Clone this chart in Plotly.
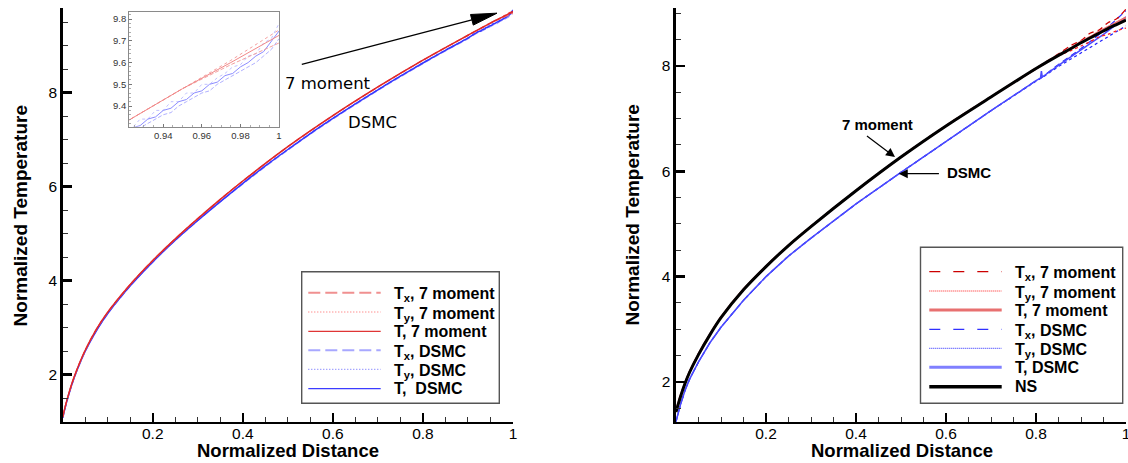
import plotly.graph_objects as go

# ---------------- data: left panel (7 moment vs DSMC) ----------------
x_mom_l = [0, 0.005, 0.01, 0.02, 0.03, 0.05, 0.075, 0.1, 0.15, 0.2, 0.25, 0.3, 0.35, 0.4, 0.5,
           0.6, 0.7, 0.8, 0.9, 0.925, 0.95, 0.975, 1.0]
T_mom_l = [1.10, 1.30, 1.48, 1.80, 2.07, 2.52, 2.97, 3.33, 3.92, 4.43, 4.89, 5.32, 5.73, 6.12, 6.85,
           7.51, 8.12, 8.69, 9.22, 9.35, 9.48, 9.60, 9.725]
Tx_mom_l = [1.10, 1.30, 1.48, 1.80, 2.07, 2.52, 2.97, 3.33, 3.92, 4.43, 4.89, 5.32, 5.73, 6.12, 6.85,
            7.51, 8.12, 8.69, 9.22, 9.35, 9.48, 9.59, 9.69]
Ty_mom_l = [1.10, 1.30, 1.48, 1.80, 2.07, 2.52, 2.97, 3.33, 3.92, 4.43, 4.89, 5.32, 5.73, 6.12, 6.85,
            7.51, 8.12, 8.69, 9.22, 9.35, 9.48, 9.61, 9.75]

x_dsmc_l = [0, 0.005, 0.01, 0.02, 0.03, 0.05, 0.075, 0.1, 0.15, 0.2, 0.25, 0.3, 0.35, 0.4,
            0.45, 0.5, 0.55, 0.6, 0.65, 0.7, 0.75, 0.8, 0.85, 0.9,
            0.920, 0.924, 0.928, 0.932, 0.936, 0.940, 0.944, 0.948, 0.952, 0.956, 0.960,
            0.964, 0.968, 0.972, 0.976, 0.980, 0.984, 0.988, 0.992, 0.996, 1.000]
T_dsmc_l = [1.08, 1.28, 1.46, 1.78, 2.05, 2.50, 2.94, 3.30, 3.89, 4.40, 4.86, 5.28, 5.68, 6.07,
            6.44, 6.79, 7.13, 7.45, 7.76, 8.06, 8.35, 8.63, 8.90, 9.16,
            9.28, 9.30, 9.31, 9.34, 9.35, 9.38, 9.39, 9.42, 9.43, 9.46, 9.47,
            9.50, 9.51, 9.54, 9.55, 9.58, 9.60, 9.63, 9.65, 9.70, 9.745]
Tx_dsmc_l = [1.08, 1.28, 1.46, 1.78, 2.05, 2.50, 2.94, 3.30, 3.89, 4.40, 4.86, 5.28, 5.68, 6.06,
             6.43, 6.78, 7.12, 7.44, 7.75, 8.05, 8.34, 8.62, 8.89, 9.15,
             9.27, 9.29, 9.30, 9.32, 9.34, 9.36, 9.37, 9.40, 9.42, 9.44, 9.46,
             9.47, 9.50, 9.52, 9.54, 9.56, 9.58, 9.60, 9.63, 9.66, 9.71]
Ty_dsmc_l = [1.08, 1.28, 1.46, 1.78, 2.05, 2.50, 2.94, 3.30, 3.89, 4.40, 4.86, 5.28, 5.68, 6.07,
             6.45, 6.80, 7.14, 7.46, 7.77, 8.07, 8.36, 8.64, 8.91, 9.17,
             9.30, 9.30, 9.34, 9.34, 9.38, 9.38, 9.42, 9.42, 9.46, 9.46, 9.50,
             9.50, 9.53, 9.55, 9.58, 9.59, 9.63, 9.64, 9.69, 9.71, 9.78]

# ---------------- data: right panel (7 moment, DSMC, NS) ----------------
x_mom_r = [0, 0.005, 0.01, 0.02, 0.03, 0.05, 0.075, 0.1, 0.15, 0.2, 0.25, 0.3, 0.4, 0.5,
           0.6, 0.7, 0.8, 0.85, 0.88, 0.9, 0.92, 0.94, 0.96, 0.98, 1.0]
NS_r = [1.43, 1.58, 1.72, 1.97, 2.18, 2.52, 2.89, 3.22, 3.75, 4.19, 4.59, 4.95, 5.63, 6.27,
        6.86, 7.41, 7.95, 8.20, 8.34, 8.44, 8.53, 8.62, 8.71, 8.79, 8.87]
T_mom_r = [1.45, 1.60, 1.74, 1.98, 2.19, 2.53, 2.90, 3.23, 3.76, 4.20, 4.59, 4.95, 5.63, 6.27,
           6.86, 7.41, 7.95, 8.21, 8.35, 8.46, 8.55, 8.65, 8.74, 8.83, 8.92]
Tx_mom_r = [1.46, 1.61, 1.75, 1.99, 2.20, 2.54, 2.90, 3.23, 3.76, 4.20, 4.60, 4.96, 5.64, 6.28,
            6.87, 7.42, 7.96, 8.23, 8.40, 8.48, 8.62, 8.68, 8.82, 8.90, 9.08]
Ty_mom_r = [1.44, 1.59, 1.73, 1.97, 2.18, 2.52, 2.89, 3.22, 3.75, 4.19, 4.59, 4.95, 5.63, 6.27,
            6.86, 7.41, 7.94, 8.19, 8.30, 8.38, 8.46, 8.55, 8.60, 8.67, 8.72]

x_dsmc_r = [0, 0.005, 0.01, 0.02, 0.03, 0.05, 0.075, 0.1, 0.15, 0.2, 0.25, 0.3, 0.4, 0.5,
            0.6, 0.7, 0.8, 0.81, 0.812, 0.814, 0.85, 0.9, 0.95, 1.0]
T_dsmc_r = [1.25, 1.42, 1.57, 1.84, 2.05, 2.38, 2.74, 3.04, 3.55, 4.00, 4.39, 4.73, 5.38, 5.98,
            6.57, 7.15, 7.72, 7.77, 7.90, 7.79, 8.01, 8.30, 8.60, 8.93]
Tx_dsmc_r = [1.25, 1.42, 1.57, 1.84, 2.05, 2.38, 2.74, 3.04, 3.55, 4.00, 4.39, 4.73, 5.38, 5.98,
             6.57, 7.15, 7.72, 7.77, 7.78, 7.79, 8.03, 8.33, 8.66, 9.05]
Ty_dsmc_r = [1.25, 1.42, 1.57, 1.84, 2.05, 2.38, 2.74, 3.04, 3.55, 4.00, 4.39, 4.73, 5.38, 5.98,
             6.57, 7.15, 7.71, 7.76, 7.77, 7.78, 7.99, 8.25, 8.50, 8.76]

# tick labels
x_ticks = [0.2, 0.4, 0.6, 0.8, 1]
x_tick_text = ["0.2", "0.4", "0.6", "0.8", "1"]
y_ticks = [2, 4, 6, 8]
inset_x_ticks = [0.94, 0.96, 0.98, 1]
inset_x_text = ["0.94", "0.96", "0.98", "1"]
inset_y_ticks = [9.4, 9.5, 9.6, 9.7, 9.8]

# ---------------- figure ----------------
W, H = 1128, 463
def px(v):
    return v / W
def py(v):
    return 1 - v / H

SANS = "Liberation Sans, Arial, Helvetica, sans-serif"
fig = go.Figure()

def add(x, y, xa, ya, color, width, dash="solid", shape="spline", smoothing=0.8):
    line = dict(color=color, width=width, dash=dash, shape=shape)
    if shape == "spline":
        line["smoothing"] = smoothing
    fig.add_trace(go.Scatter(x=x, y=y, mode="lines", xaxis=xa, yaxis=ya, line=line,
                             hoverinfo="skip", showlegend=False))

# left panel main
add(x_dsmc_l, Tx_dsmc_l, "x", "y", "#9a9aff", 1.5, "6px,3px")
add(x_dsmc_l, Ty_dsmc_l, "x", "y", "#7070ff", 1.0, "dot")
add(x_dsmc_l, T_dsmc_l, "x", "y", "#3535ff", 1.5)
add(x_mom_l, Tx_mom_l, "x", "y", "#f08080", 1.5, "6px,3px")
add(x_mom_l, Ty_mom_l, "x", "y", "#ff4040", 1.0, "dot")
add(x_mom_l, T_mom_l, "x", "y", "#e02828", 1.5)

# left inset
add(x_dsmc_l, Tx_dsmc_l, "x3", "y3", "#b0b0ff", 1.0, "4px,2px", "linear")
add(x_dsmc_l, Ty_dsmc_l, "x3", "y3", "#c0c0ff", 1.0, "dot", "linear")
add(x_dsmc_l, T_dsmc_l, "x3", "y3", "#8c8cff", 1.0, "solid", "linear")
add(x_mom_l, Tx_mom_l, "x3", "y3", "#f2a0a0", 1.0, "4px,2px", "linear")
add(x_mom_l, Ty_mom_l, "x3", "y3", "#f5a0a0", 1.0, "dot", "linear")
add(x_mom_l, T_mom_l, "x3", "y3", "#f08888", 1.0, "solid", "linear")

# right panel
add(x_dsmc_r, Tx_dsmc_r, "x2", "y2", "#2a2aff", 1.2, "6px,4px", "linear")
add(x_dsmc_r, Ty_dsmc_r, "x2", "y2", "#2020ff", 1.2, "dot", "linear")
add(x_dsmc_r, T_dsmc_r, "x2", "y2", "#4a4aff", 1.5, "solid", "linear")
add(x_mom_r, Tx_mom_r, "x2", "y2", "#d00000", 1.3, "6px,4px")
add(x_mom_r, Ty_mom_r, "x2", "y2", "#ff2020", 1.2, "dot")
add(x_mom_r, T_mom_r, "x2", "y2", "#e87070", 2.0)
add(x_mom_r, NS_r, "x2", "y2", "black", 3.0)

TICKFONT = dict(family=SANS, size=15.5, color="black")

def main_axis(domain, rng, tickvals, ticktext, minor_dtick, anchor, standoff):
    return dict(domain=domain, range=rng, showline=True, linewidth=2.6, linecolor="black",
                ticks="inside", ticklen=9, tickwidth=2.5, tickcolor="black",
                tickmode="array", tickvals=tickvals, ticktext=ticktext,
                minor=dict(ticks="inside", ticklen=5, tickwidth=1, tickcolor="#333",
                           dtick=minor_dtick, tick0=0, showgrid=False),
                showgrid=False, zeroline=False, tickfont=TICKFONT, automargin=False,
                ticklabeloverflow="allow", ticklabelstandoff=standoff,
                anchor=anchor, fixedrange=True)

def inset_axis(domain, rng, tickvals, ticktext, minor_dtick, anchor):
    return dict(domain=domain, range=rng, showline=True, mirror=True, linewidth=1.2,
                linecolor="#8a8a8a", ticks="inside", ticklen=3, tickwidth=1, tickcolor="#777",
                tickmode="array", tickvals=tickvals, ticktext=ticktext,
                minor=dict(ticks="inside", ticklen=2, tickwidth=0.8, tickcolor="#999",
                           dtick=minor_dtick, tick0=0, showgrid=False),
                showgrid=False, zeroline=False,
                tickfont=dict(family=SANS, size=9.5, color="#333"),
                automargin=False, anchor=anchor, fixedrange=True)

yt_text = [str(v) for v in y_ticks]
fig.update_layout(
    width=W, height=H, template="none",
    margin=dict(l=0, r=0, t=0, b=0, pad=0),
    paper_bgcolor="white", plot_bgcolor="rgba(0,0,0,0)", showlegend=False,
    xaxis=main_axis([px(62.7), px(513)], [0, 1], x_ticks, x_tick_text, 0.05, "y", -4),
    yaxis=main_axis([py(421.7), py(8)], [1, 9.8], y_ticks, yt_text, 0.5, "x", 0),
    xaxis2=main_axis([px(676), px(1126)], [0, 1], x_ticks, x_tick_text, 0.05, "y2", -4),
    yaxis2=main_axis([py(421.7), py(8)], [1.246, 9.10], y_ticks, yt_text, 0.5, "x2", 0),
    xaxis3=inset_axis([px(129.3), px(279)], [0.9224, 1.0], inset_x_ticks, inset_x_text, 0.005, "y3"),
    yaxis3=inset_axis([py(126.7), py(11.7)], [9.305, 9.834], inset_y_ticks,
                      [str(v) for v in inset_y_ticks], 0.02, "x3"),
)

annotations = []
TITLEFONT = dict(family=SANS, size=18.5, color="black")
YTITLEFONT = dict(family=SANS, size=19, color="black")
# axis titles
annotations.append(dict(text="<b>Normalized Distance</b>", x=px(288), y=py(450), xref="paper",
                        yref="paper", showarrow=False, font=TITLEFONT, xanchor="center", yanchor="middle"))
annotations.append(dict(text="<b>Normalized Temperature</b>", x=px(20.6), y=py(215.8), xref="paper",
                        yref="paper", showarrow=False, font=YTITLEFONT, textangle=-90,
                        xanchor="center", yanchor="middle"))
annotations.append(dict(text="<b>Normalized Distance</b>", x=px(902), y=py(450), xref="paper",
                        yref="paper", showarrow=False, font=TITLEFONT, xanchor="center", yanchor="middle"))
annotations.append(dict(text="<b>Normalized Temperature</b>", x=px(632.5), y=py(215), xref="paper",
                        yref="paper", showarrow=False, font=YTITLEFONT, textangle=-90,
                        xanchor="center", yanchor="middle"))

# left labels
LBL = dict(family="DejaVu Sans, sans-serif", size=16.5, color="black")
annotations.append(dict(text="7 moment", x=0.5886, y=8.20, xref="x", yref="y", showarrow=False,
                        font=LBL, xanchor="center", yanchor="middle"))
annotations.append(dict(text="DSMC", x=0.6887, y=7.36, xref="x", yref="y", showarrow=False,
                        font=LBL, xanchor="center", yanchor="middle"))

# right labels with arrows
RLBL = dict(family=SANS, size=15, color="black")
annotations.append(dict(text="<b>7 moment</b>", x=0.4467, y=6.88, xref="x2", yref="y2",
                        showarrow=False, font=RLBL, xanchor="center", yanchor="middle"))
annotations.append(dict(text="<b>DSMC</b>", x=0.651, y=5.98, xref="x2", yref="y2",
                        showarrow=False, font=RLBL, xanchor="center", yanchor="middle"))
annotations.append(dict(text="", x=0.4867, y=6.27, xref="x2", yref="y2", ax=0.421, ay=6.69,
                        axref="x2", ayref="y2", showarrow=True, arrowhead=2, arrowsize=1.5,
                        arrowwidth=1.2, arrowcolor="black"))
annotations.append(dict(text="", x=0.495, y=5.955, xref="x2", yref="y2", ax=0.5876, ay=5.955,
                        axref="x2", ayref="y2", showarrow=True, arrowhead=2, arrowsize=1.5,
                        arrowwidth=1.2, arrowcolor="black"))

shapes = []
# left big arrow: shaft + filled head
shapes.append(dict(type="line", xref="x", yref="y", x0=0.531, y0=8.60, x1=0.9087, y1=9.549,
                   line=dict(color="black", width=1.2)))
shapes.append(dict(type="path", xref="x", yref="y",
                   path="M0.9645,9.690 L0.9118,9.436 L0.9056,9.662 Z",
                   fillcolor="black", line=dict(color="black", width=1)))

# manual legends
LEGFONT = dict(family=SANS, size=16, color="black")

def legend(box, x0, x1, xt, rows):
    shapes.append(dict(type="rect", xref="paper", yref="paper", x0=px(box[0]), x1=px(box[2]),
                       y0=py(box[3]), y1=py(box[1]), line=dict(color="#555", width=1.4),
                       fillcolor="white", layer="above"))
    for (yy, label, color, width, dash) in rows:
        shapes.append(dict(type="line", xref="paper", yref="paper", x0=px(x0), x1=px(x1),
                           y0=py(yy), y1=py(yy), line=dict(color=color, width=width, dash=dash)))
        sub = "<sub>" in label
        annotations.append(dict(text="<b>" + label + "</b>", x=px(xt), y=py(yy + (2 if sub else 0)),
                                xref="paper", yref="paper", showarrow=False, font=LEGFONT,
                                xanchor="left", yanchor="middle"))

legend((301.7, 271.7, 499.3, 403.3), 308.3, 380.7, 391.7, [
    (292.7, "T<sub>x</sub>, 7 moment", "#f09090", 2.0, "12px,5px"),
    (312.0, "T<sub>y</sub>, 7 moment", "#ff6060", 1.0, "1px,2px"),
    (331.3, "T, 7 moment", "#e03535", 1.3, "solid"),
    (350.3, "T<sub>x</sub>, DSMC", "#a8a8ff", 2.0, "12px,5px"),
    (369.3, "T<sub>y</sub>, DSMC", "#6060ff", 1.0, "1px,2px"),
    (388.7, "T,&nbsp; DSMC", "#3c3cff", 1.3, "solid"),
])
legend((920.5, 247.3, 1122.7, 403.3), 929.3, 1001.7, 1013.3, [
    (271.7, "T<sub>x</sub>, 7 moment", "#cc0000", 1.3, "11px,13px"),
    (291.0, "T<sub>y</sub>, 7 moment", "#ff2020", 1.0, "1px,1px"),
    (310.0, "T, 7 moment", "#e87070", 3.0, "solid"),
    (329.3, "T<sub>x</sub>, DSMC", "#3030ff", 1.3, "11px,13px"),
    (348.3, "T<sub>y</sub>, DSMC", "#2020ff", 1.0, "1px,1px"),
    (367.3, "T, DSMC", "#8080ff", 3.0, "solid"),
    (386.7, "NS", "black", 3.5, "solid"),
])

fig.update_layout(annotations=annotations, shapes=shapes)
fig.write_html("out.html", config={"displayModeBar": False, "staticPlot": True},
               post_script="document.body.style.margin='0px';document.body.style.overflow='hidden';")
